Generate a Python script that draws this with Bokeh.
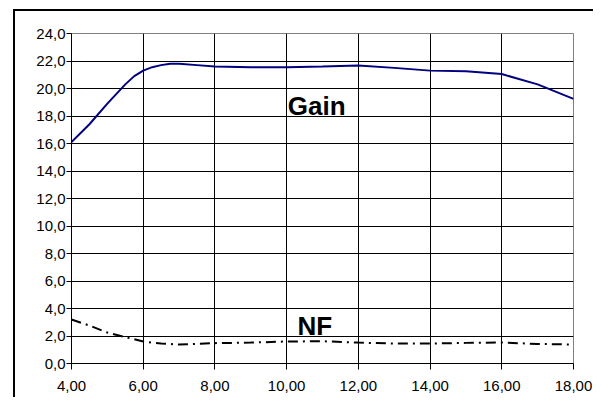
from bokeh.plotting import figure
from bokeh.models import Range1d, FixedTicker, Label
from bokeh.embed import file_html
from bokeh.resources import INLINE

# ---- data ----
gain_x = [4, 4.5, 5, 5.5, 5.75, 6, 6.25, 6.5, 6.75, 7, 7.5, 8, 9, 10, 11, 12, 13, 14,
          15, 16, 17, 18]
gain_y = [16.1, 17.4, 18.9, 20.3, 20.9, 21.3, 21.55, 21.7, 21.8, 21.8, 21.7, 21.6,
          21.55, 21.55, 21.6, 21.67, 21.5, 21.3, 21.25, 21.05, 20.3, 19.25]
nf_x = [4, 4.5, 5, 5.5, 6, 6.5, 7, 8, 9, 10, 11, 12, 13, 14, 15, 16, 17, 18]
nf_y = [3.2, 2.76, 2.25, 1.92, 1.6, 1.45, 1.38, 1.48, 1.52, 1.6, 1.62, 1.52, 1.45,
        1.45, 1.5, 1.53, 1.42, 1.38]
x_ticks = [4, 6, 8, 10, 12, 14, 16, 18]
x_labels = ["4,00", "6,00", "8,00", "10,00", "12,00", "14,00", "16,00", "18,00"]
y_ticks = [0, 2, 4, 6, 8, 10, 12, 14, 16, 18, 20, 22, 24]
y_labels = ["0,0", "2,0", "4,0", "6,0", "8,0", "10,0", "12,0", "14,0", "16,0",
            "18,0", "20,0", "22,0", "24,0"]
series_labels = ["Gain", "NF"]
label_pos = [(10.03, 18.75), (10.3, 2.75)]

FONT = "Liberation Sans"

p = figure(width=593, height=397, output_backend="svg", toolbar_location=None,
           x_range=Range1d(4, 18), y_range=Range1d(0, 24),
           min_border_left=71, min_border_right=20, min_border_top=33,
           min_border_bottom=34)
p.background_fill_color = "white"
p.border_fill_color = None
p.outline_line_color = "#808080"
p.outline_line_width = 1
# outer chart frame (runs off the right and bottom of the window)
p.styles = {
    "background": ("linear-gradient(#000,#000) 13px 9px / 2px 2000px no-repeat, "
                   "linear-gradient(#000,#000) 13px 9px / 2000px 2px no-repeat, #fff"),
}

for ax, ticks, labels in ((p.xaxis[0], x_ticks, x_labels), (p.yaxis[0], y_ticks, y_labels)):
    ax.ticker = FixedTicker(ticks=ticks)
    ax.major_label_overrides = {t: l for t, l in zip(ticks, labels)}
    ax.axis_line_color = "black"
    ax.axis_line_width = 1
    ax.major_tick_line_color = "black"
    ax.major_tick_in = 0
    ax.minor_tick_line_color = None
    ax.major_label_text_font = FONT
    ax.major_label_text_font_size = "15px"
    ax.major_label_text_color = "black"

p.xaxis.major_tick_out = 6
p.xaxis.major_label_standoff = 11
p.yaxis.major_tick_out = 5
p.yaxis.major_label_standoff = 1

p.xgrid.ticker = FixedTicker(ticks=x_ticks)
p.ygrid.ticker = FixedTicker(ticks=y_ticks)
for g in (p.xgrid[0], p.ygrid[0]):
    g.grid_line_color = "black"
    g.grid_line_width = 1

p.line(gain_x, gain_y, line_color="#000080", line_width=2)
p.line(nf_x, nf_y, line_color="black", line_width=2, line_dash="10 5 2 5")

for txt, (lx, ly) in zip(series_labels, label_pos):
    p.add_layout(Label(x=lx, y=ly, text=txt, text_font=FONT, text_font_size="26px",
                       text_font_style="bold", text_color="black",
                       text_baseline="alphabetic", text_align="left"))

open("out.html", "w").write(file_html(p, INLINE))
